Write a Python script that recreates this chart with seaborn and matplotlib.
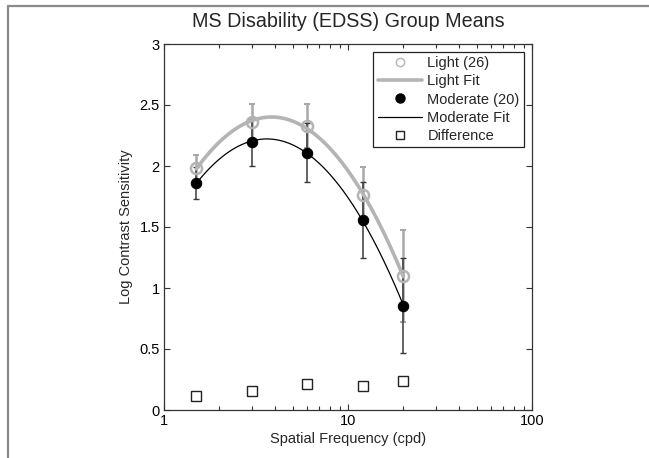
import numpy as np
import pandas as pd
import seaborn as sns
import matplotlib
matplotlib.use("Agg")
import matplotlib.pyplot as plt
from matplotlib.lines import Line2D
from matplotlib.ticker import LogLocator, NullFormatter, FixedLocator, FixedFormatter

# ---- data ----
freq = [1.5, 3, 6, 12, 20]
light = [1.98, 2.358, 2.328, 1.76, 1.098]
light_err = [0.11, 0.15, 0.18, 0.235, 0.38]
moderate = [1.863, 2.194, 2.109, 1.557, 0.855]
moderate_err = [0.13, 0.195, 0.24, 0.31, 0.39]
difference = [0.115, 0.155, 0.212, 0.196, 0.235]
yticks = [0, 0.5, 1, 1.5, 2, 2.5, 3]
ytick_labels = ["0", "0.5", "1", "1.5", "2", "2.5", "3"]
xticks = [1, 10, 100]
xtick_labels = ["1", "10", "100"]

sns.set_theme(style="ticks")
plt.rcParams['font.family'] = ['Liberation Sans', 'DejaVu Sans']

W, H = 649, 458
fig = plt.figure(figsize=(W / 100, H / 100), dpi=100)
ax = fig.add_axes([164 / W, 1 - 410 / H, (532 - 164) / W, (410 - 44) / H])

GRAY = "#b4b4b4"
GRAY_ERR = "#a8a8a8"

# quadratic fits in log frequency (as the original "Fit" curves)
u = np.log10(freq)
u_fit = np.linspace(u.min(), u.max(), 200)
f_fit = 10 ** u_fit
light_fit = np.polyval(np.polyfit(u, light, 2), u_fit)
moderate_fit = np.polyval(np.polyfit(u, moderate, 2), u_fit)

ax.set_xscale("log")

# error bars
ax.errorbar(freq, light, yerr=light_err, fmt="none", ecolor=GRAY_ERR,
            elinewidth=1.8, capsize=2.5, capthick=1.5, zorder=2)
ax.errorbar(freq, moderate, yerr=moderate_err, fmt="none", ecolor="#3a3a3a",
            elinewidth=1.1, capsize=2.5, capthick=1.0, zorder=3)

# fits
sns.lineplot(x=f_fit, y=light_fit, color=GRAY, linewidth=2.6, ax=ax, zorder=4,
             sort=False, estimator=None)
sns.lineplot(x=f_fit, y=moderate_fit, color="black", linewidth=0.9, ax=ax, zorder=5,
             sort=False, estimator=None)

# points
sns.lineplot(x=freq, y=light, marker="o", linestyle="", markersize=8,
             markerfacecolor="none", markeredgecolor=GRAY, markeredgewidth=1.8,
             ax=ax, zorder=6, estimator=None)
sns.lineplot(x=freq, y=moderate, marker="o", linestyle="", markersize=7.5,
             markerfacecolor="black", markeredgecolor="black",
             ax=ax, zorder=7, estimator=None)
sns.lineplot(x=freq, y=difference, marker="s", linestyle="", markersize=6.5,
             markerfacecolor="none", markeredgecolor="#222222", markeredgewidth=1.0,
             ax=ax, zorder=7, estimator=None)

ax.set_xlim(1, 100)
ax.set_ylim(0, 3)
ax.xaxis.set_major_locator(FixedLocator(xticks))
ax.xaxis.set_major_formatter(FixedFormatter(xtick_labels))
ax.xaxis.set_minor_locator(LogLocator(base=10, subs=np.arange(2, 10)))
ax.xaxis.set_minor_formatter(NullFormatter())
ax.set_yticks(yticks)
ax.set_yticklabels(ytick_labels)

for s in ax.spines.values():
    s.set_visible(True)
    s.set_color("#333333")
    s.set_linewidth(0.9)
ax.tick_params(which="both", direction="in", top=True, right=True,
               colors="#333333", labelcolor="black", labelsize=10.5)
ax.tick_params(which="major", length=4, width=0.8, pad=3)
ax.tick_params(which="minor", length=3, width=0.8)

ax.set_xlabel("Spatial Frequency (cpd)", fontsize=10.5, labelpad=3)
ax.set_ylabel("Log Contrast Sensitivity", fontsize=10.5, labelpad=5)
ax.set_title("MS Disability (EDSS) Group Means", fontsize=14.2, pad=12)

handles = [
    Line2D([], [], marker="o", ls="", ms=6, mfc="none", mec=GRAY, mew=1.0),
    Line2D([], [], color=GRAY, lw=2.6),
    Line2D([], [], marker="o", ls="", ms=6.5, mfc="black", mec="black"),
    Line2D([], [], color="black", lw=0.9),
    Line2D([], [], marker="s", ls="", ms=5.5, mfc="none", mec="#222222", mew=1.0),
]
labels = ["Light (26)", "Light Fit", "Moderate (20)", "Moderate Fit", "Difference"]
leg = ax.legend(handles, labels, loc="upper right", bbox_to_anchor=(1, 1),
                borderaxespad=0.55, fontsize=10.5, frameon=True, fancybox=False,
                framealpha=1, edgecolor="#222222", handlelength=3.0,
                handletextpad=0.4, labelspacing=0.28, borderpad=0.3)
leg.get_frame().set_linewidth(0.9)

# outer frame lines (top and left) of the image
fig.add_artist(Line2D([7.5 / W, 1], [1 - 5.5 / H] * 2, transform=fig.transFigure,
                      color="#8a8a8a", lw=1.6))
fig.add_artist(Line2D([7.5 / W] * 2, [0, 1 - 5.5 / H], transform=fig.transFigure,
                      color="#8a8a8a", lw=1.6))

fig.savefig("out.png", dpi=100)
